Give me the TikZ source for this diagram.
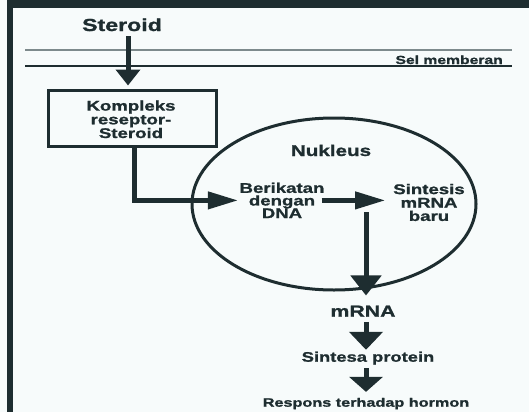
\documentclass[tikz,border=0pt]{standalone}
\usepackage{fontspec}
\setmainfont{Liberation Sans}[FakeStretch=1.33, BoldFeatures={FakeBold=1.2}]
\usetikzlibrary{arrows.meta,shapes.geometric}
\definecolor{ink}{HTML}{1E2D30}
\definecolor{paper}{HTML}{F7FBFB}
\definecolor{memgray}{HTML}{7D8A8C}
\begin{document}
\begin{tikzpicture}[x=1pt,y=-1pt,
  lbl/.style={text=ink, inner sep=0pt, align=center},
  flow/.style={draw=ink, line width=5pt},
  headH/.style={-{Triangle[length=30pt,width=17pt]}, line width=4.2pt},
  membrane/.style={line width=1.6pt}
]
\fill[paper] (0,0) rectangle (529,412);
\useasboundingbox (0,0) rectangle (529,412);
% frame
\fill[ink] (7,0) rectangle (529,8);
\fill[ink] (7,0) rectangle (13,412);
% membrane
\coordinate (m1a) at (25,50);
\coordinate (m1b) at (512,50);
\coordinate (m2a) at (25,66);
\coordinate (m2b) at (512,66);
\draw[membrane, draw=memgray] (m1a) -- (m1b);
\draw[membrane, draw=ink] (m2a) -- (m2b);
\node[lbl, anchor=base east, font=\fontsize{11.8}{13}\selectfont\bfseries] (sel) at (503,64) {Sel memberan};
% texts
\node[lbl, anchor=base, font=\fontsize{17.4}{20}\selectfont\bfseries] (steroid) at (122,31) {Steroid};
\node[draw=ink, line width=3pt, minimum width=168pt, minimum height=56pt, inner sep=0pt,
      lbl, font=\fontsize{14}{13.7}\selectfont\bfseries] (box) at (132,118) {};
\node[lbl, font=\fontsize{14}{13.7}\selectfont\bfseries] (boxtext) at (131,119.3) {Kompleks\\reseptor-\\Steroid};
\node[ellipse, draw=ink, line width=3pt, minimum width=284pt, minimum height=172pt, inner sep=0pt] (nuc) at (334,204) {};
\node[lbl, anchor=base, font=\fontsize{15.5}{17}\selectfont\bfseries] (nukleus) at (331,156) {Nukleus};
\node[lbl, font=\fontsize{14}{12.6}\selectfont\bfseries] (berikatan) at (282,200.4) {Berikatan\\dengan\\DNA};
\node[lbl, font=\fontsize{14}{13.4}\selectfont\bfseries] (sintesis) at (429,202.5) {Sintesis\\mRNA\\baru};
\node[lbl, anchor=base, font=\fontsize{16}{18}\selectfont\bfseries] (mrna) at (363,316.7) {mRNA};
\node[lbl, anchor=base, font=\fontsize{13.8}{15}\selectfont\bfseries] (sintesa) at (368,361.7) {Sintesa protein};
\node[lbl, anchor=base, font=\fontsize{12.2}{14}\selectfont\bfseries] (respons) at (366,406.7) {Respons terhadap hormon};
\coordinate (split) at (366,212);
% connectors
\draw[flow, -{Triangle[length=16pt,width=24pt]}, shorten <=5pt, shorten >=3pt]
  ([xshift=6pt]steroid.south) -- ([xshift=-4pt]box.north);
\draw[flow, headH, shorten >=1.5pt]
  ([xshift=2.5pt]box.south) |- (berikatan.west);
\draw[flow, headH, shorten >=5pt]
  ([xshift=-3pt]berikatan.east) -- ([xshift=-3pt]berikatan.east -| sintesis.west);
\draw[flow, -{Triangle[length=20pt,width=30pt]}, shorten >=10pt]
  (split) -- (split |- mrna.north);
\draw[flow, -{Triangle[length=18pt,width=33pt]}, shorten <=5pt, shorten >=1.7pt]
  (split |- mrna.south) -- (split |- sintesa.north);
\draw[flow, -{Triangle[length=15pt,width=33pt]}, shorten <=3.4pt, shorten >=5.8pt]
  (split |- sintesa.south) -- (split |- respons.north);
\end{tikzpicture}
\end{document}
